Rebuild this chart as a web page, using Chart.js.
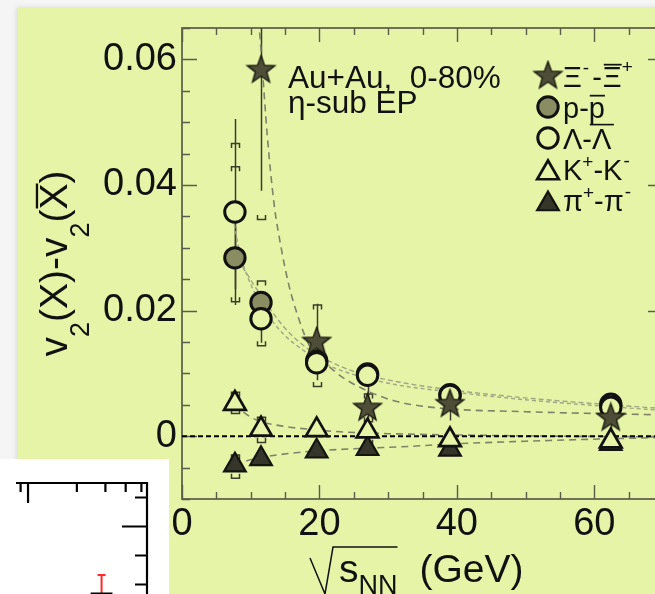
<!DOCTYPE html>
<html>
<head>
<meta charset="utf-8">
<script src="https://cdn.jsdelivr.net/npm/chart.js@4.4.1/dist/chart.umd.min.js"></script>
<style>
  html, body { margin: 0; padding: 0; }
  body { width: 655px; height: 594px; overflow: hidden; position: relative; background: #f5f5f5; }
  #panel { position: absolute; left: 18px; top: 8px; width: 700px; height: 620px; background: #e6f4a8;
           box-shadow: -2px -1px 5px rgba(0,0,0,0.10); }
  #main { position: absolute; left: 0; top: 0; }
  #insetBox { position: absolute; left: 0; top: 459px; width: 169px; height: 140px; background: #ffffff; }
  #inset { position: absolute; left: 0; top: 459px; }
</style>
</head>
<body>
<div id="panel"></div>
<canvas id="main" width="700" height="594"></canvas>
<div id="insetBox"></div>
<canvas id="inset" width="169" height="240"></canvas>
<script>
// ---------- data: v2(X) - v2(anti-X) vs collision energy ----------
const energies = [7.7, 11.5, 19.6, 27, 39, 62.4];

const xiDiff    = [null, 0.0583, 0.0150, 0.0045, 0.0051, 0.0029];
const xiStat    = [null, 0.0192, 0.0061, 0.0037, 0.0026, 0.0028];
const xiSysHigh = [null, 0.0800, 0.0209, 0.0067, 0.0055, 0.0032];
const xiSysLow  = [null, 0.0345, 0.0079, 0.0023, 0.0047, 0.0026];

const pDiff    = [0.0284, 0.0213, 0.0120, 0.0099, 0.0066, 0.0051];
const pStat    = [0.0050, 0.0015, 0.0010, 0.0008, 0.0006, 0.0005];
const pSysHigh = [0.0429, 0.0224, 0.0126, 0.0104, 0.0070, 0.0054];
const pSysLow  = [0.0270, 0.0202, 0.0114, 0.0094, 0.0062, 0.0048];

const lambdaDiff    = [0.0357, 0.0187, 0.0117, 0.0097, 0.0065, 0.0046];
const lambdaStat    = [0.0148, 0.0038, 0.0010, 0.0009, 0.0007, 0.0006];
const lambdaSysHigh = [0.0466, 0.0247, 0.0122, 0.0102, 0.0069, 0.0050];
const lambdaSysLow  = [0.0214, 0.0144, 0.0112, 0.0092, 0.0061, 0.0042];

const kaonDiff    = [0.0052, 0.0011, 0.0010, 0.0008, -0.0006, -0.0008];
const kaonStat    = [0.0004, 0.0003, 0.0002, 0.0002, 0.0002, 0.0002];
const kaonSysHigh = [0.0070, 0.0030, 0.0016, 0.0014, 0.0000, -0.0004];
const kaonSysLow  = [0.0036, -0.0010, 0.0004, -0.0013, -0.0012, -0.0012];

const pionDiff    = [-0.0046, -0.0036, -0.0024, -0.0020, -0.0021, -0.0012];
const pionStat    = [0.0004, 0.0003, 0.0002, 0.0002, 0.0002, 0.0002];
const pionSysHigh = [-0.0030, -0.0030, -0.0020, -0.0016, -0.0018, -0.0010];
const pionSysLow  = [-0.0067, -0.0042, -0.0028, -0.0024, -0.0024, -0.0014];

// fitted trend curves (sampled)
const xiFitX = [10.9, 11.6, 12.4, 13.4, 14.5, 15.5, 16.9, 18.6, 20.8, 23.2, 26.6, 31.0, 37.3, 50.0, 70.0];
const xiFitY = [0.0700, 0.0600, 0.0480, 0.0370, 0.0296, 0.0243, 0.0190, 0.0143, 0.0117, 0.0095, 0.0074, 0.0056, 0.0045, 0.0039, 0.0034];
const lambdaFitX = [7.3, 7.9, 8.5, 9.5, 10.6, 12.0, 13.0, 15.0, 17.5, 20.3, 25.0, 31.7, 39.7, 50.0, 62.4, 70.0];
const lambdaFitY = [0.0360, 0.0320, 0.0288, 0.0255, 0.0228, 0.0200, 0.0185, 0.0160, 0.0138, 0.0118, 0.0098, 0.0081, 0.0070, 0.0058, 0.0047, 0.0041];
const pFitX = [7.7, 8.5, 9.5, 10.5, 11.5, 13.0, 15.0, 17.5, 20.3, 25.0, 31.7, 39.7, 50.0, 62.4, 70.0];
const pFitY = [0.0292, 0.0275, 0.0258, 0.0240, 0.0225, 0.0200, 0.0172, 0.0146, 0.0126, 0.0103, 0.0086, 0.0073, 0.0061, 0.0050, 0.0044];
const kaonFitX = [7.7, 9.0, 11.0, 14.7, 19.6, 23.0, 30.0, 40.0, 55.0, 70.0];
const kaonFitY = [0.0052, 0.0038, 0.0025, 0.0016, 0.0010, 0.0007, 0.0004, 0.0002, 0.0000, -0.0001];
const pionFitX = [7.7, 8.9, 12.0, 16.0, 20.0, 27.0, 31.7, 40.0, 50.0, 62.4, 70.0];
const pionFitY = [-0.0046, -0.0041, -0.0033, -0.0027, -0.0023, -0.0019, -0.0017, -0.0012, -0.0008, -0.0004, -0.0002];

const zeroLineX = [0, 70];
const zeroLineY = [0, 0];

// neighbouring panel (log energy axis)
const insetEnergy = [2.84];
const insetValue  = [0.735];
const insetUpper  = [0.833];
const insetXTicks = [0.9, 1, 2, 3, 4, 5];
const insetYTicks = [0.8, 0.9, 1.0, 1.1];

// ---------- styling ----------
const FAMILY = '"Liberation Sans", Arial, Helvetica, sans-serif';
const INK = '#111111';
const BG = '#e6f4a8';
const AXIS = '#5b5b4a';
const ERR = '#3c3c2c';

function starImage(R, r, fill, stroke) {
  const s = Math.ceil(2 * R + 4);
  const c = document.createElement('canvas');
  c.width = s; c.height = s;
  const g = c.getContext('2d');
  g.translate(s / 2, s / 2);
  g.beginPath();
  for (let i = 0; i < 10; i++) {
    const a = -Math.PI / 2 + i * Math.PI / 5;
    const rad = i % 2 ? r : R;
    g.lineTo(rad * Math.cos(a), rad * Math.sin(a));
  }
  g.closePath();
  g.fillStyle = fill; g.fill();
  g.lineWidth = 1.4; g.strokeStyle = stroke; g.stroke();
  return c;
}
const starMarker = starImage(14.5, 6.0, '#4e4e38', '#1a1a10');

const species = [
  { name: 'xi', values: xiDiff, stat: xiStat, hi: xiSysHigh, lo: xiSysLow,
    pointStyle: starMarker, radius: 14, bg: '#4e4e38', border: '#1a1a10', bw: 1.4, order: 1 },
  { name: 'lambda', values: lambdaDiff, stat: lambdaStat, hi: lambdaSysHigh, lo: lambdaSysLow,
    pointStyle: 'circle', radius: 10.2, bg: BG, border: INK, bw: 3, order: 2 },
  { name: 'proton', values: pDiff, stat: pStat, hi: pSysHigh, lo: pSysLow,
    pointStyle: 'circle', radius: 10.2, bg: '#8a8c62', border: INK, bw: 3, order: 3 },
  { name: 'kaon', values: kaonDiff, stat: kaonStat, hi: kaonSysHigh, lo: kaonSysLow,
    pointStyle: 'triangle', radius: 12.5, bg: BG, border: INK, bw: 2.7, order: 4 },
  { name: 'pion', values: pionDiff, stat: pionStat, hi: pionSysHigh, lo: pionSysLow,
    pointStyle: 'triangle', radius: 12.5, bg: '#35352a', border: '#141410', bw: 2.2, order: 5 }
];

const toPoints = (xs, ys) => xs.map((x, i) => ({ x: x, y: ys[i] }));

const markerSets = species.map(s => ({
  type: 'scatter',
  label: s.name,
  data: energies.map((e, i) => ({ x: e, y: s.values[i] })).filter(p => p.y !== null),
  pointStyle: s.pointStyle,
  pointRadius: s.radius,
  pointBackgroundColor: s.bg,
  pointBorderColor: s.border,
  pointBorderWidth: s.bw,
  showLine: false,
  order: s.order
}));

function curve(xs, ys, color, width, dash) {
  return {
    type: 'line', data: toPoints(xs, ys), borderColor: color, borderWidth: width,
    borderDash: dash, pointRadius: 0, cubicInterpolationMode: 'monotone', fill: false, order: 20
  };
}

const curveSets = [
  curve(lambdaFitX, lambdaFitY, '#a0a484', 1.4, [4, 3]),
  curve(pFitX, pFitY, '#a0a484', 1.4, [5, 3]),
  curve(xiFitX, xiFitY, '#7f8268', 1.6, [7, 5]),
  curve(kaonFitX, kaonFitY, '#7f8268', 1.6, [7, 5]),
  curve(pionFitX, pionFitY, '#7f8268', 1.6, [7, 5]),
  { type: 'line', data: toPoints(zeroLineX, zeroLineY), borderColor: '#000', borderWidth: 2,
    borderDash: [5, 3], pointRadius: 0, fill: false, order: 15 }
];

// ---------- plugins ----------
const frameAndTicks = {
  id: 'frameAndTicks',
  beforeDatasetsDraw(chart) {
    const { ctx, chartArea: a, scales: { x, y } } = chart;
    ctx.save();
    ctx.strokeStyle = AXIS;
    ctx.lineWidth = 1.7;
    ctx.strokeRect(a.left, a.top, a.right - a.left, a.bottom - a.top);
    ctx.beginPath();
    x.ticks.forEach(t => {
      const px = Math.round(x.getPixelForValue(t.value)) + 0.5;
      const len = t.value % 20 === 0 ? 14 : 7;
      ctx.moveTo(px, a.bottom); ctx.lineTo(px, a.bottom - len);
      ctx.moveTo(px, a.top); ctx.lineTo(px, a.top + len);
    });
    y.ticks.forEach(t => {
      const py = Math.round(y.getPixelForValue(t.value)) + 0.5;
      const major = Math.round(t.value / 0.005) % 4 === 0;
      const len = major ? 15 : 8;
      ctx.moveTo(a.left, py); ctx.lineTo(a.left + len, py);
      ctx.moveTo(a.right, py); ctx.lineTo(a.right - len, py);
    });
    ctx.lineWidth = 1.4;
    ctx.stroke();
    ctx.restore();
  }
};

const errorBars = {
  id: 'errorBars',
  beforeDatasetsDraw(chart) {
    const { ctx, chartArea: a, scales: { x, y } } = chart;
    ctx.save();
    ctx.beginPath();
    ctx.rect(a.left, a.top, a.right - a.left, a.bottom - a.top);
    ctx.clip();
    ctx.strokeStyle = ERR;
    ctx.lineWidth = 1.5;
    species.forEach(s => {
      energies.forEach((e, i) => {
        const v = s.values[i];
        if (v === null) return;
        const px = Math.round(x.getPixelForValue(e)) + 0.5;
        const yTop = y.getPixelForValue(v + s.stat[i]);
        const yBot = y.getPixelForValue(v - s.stat[i]);
        ctx.beginPath();
        ctx.moveTo(px, yTop); ctx.lineTo(px, yBot);
        const yh = y.getPixelForValue(s.hi[i]);
        const yl = y.getPixelForValue(s.lo[i]);
        ctx.moveTo(px - 4, yh + 4.5); ctx.lineTo(px - 4, yh); ctx.lineTo(px + 4, yh); ctx.lineTo(px + 4, yh + 4.5);
        ctx.moveTo(px - 4, yl - 4.5); ctx.lineTo(px - 4, yl); ctx.lineTo(px + 4, yl); ctx.lineTo(px + 4, yl - 4.5);
        ctx.stroke();
      });
    });
    ctx.restore();
  }
};

// draw a run of text pieces (sub/superscripts, overlines) left to right
function drawRuns(ctx, x, y, runs) {
  runs.forEach(r => {
    ctx.font = r.size + 'px ' + FAMILY;
    x += r.gap || 0;
    const w = ctx.measureText(r.t).width;
    const by = y + (r.dy || 0);
    ctx.fillText(r.t, x, by);
    if (r.over) {
      ctx.fillRect(x + 1, by - r.size * 0.80, w - 1, Math.max(1.3, r.size * 0.06));
    }
    if (r.under) {
      ctx.fillRect(x + 1, by + r.size * 0.20, w + r.under, 1.6);
    }
    x += w;
  });
  return x;
}
function runsWidth(ctx, runs) {
  let w = 0;
  runs.forEach(r => { ctx.font = r.size + 'px ' + FAMILY; w += (r.gap || 0) + ctx.measureText(r.t).width; });
  return w;
}

const LEG = 29, SUP = 19;
const legendRows = [
  { marker: 'xi', runs: [{ t: 'Ξ', size: LEG }, { t: '-', size: SUP, dy: -13, gap: 1 }, { t: '-', size: LEG, gap: 3 },
                         { t: 'Ξ', size: LEG, over: true, gap: 1 }, { t: '+', size: SUP, dy: -14 }] },
  { marker: 'proton', runs: [{ t: 'p', size: LEG }, { t: '-', size: LEG }, { t: 'p', size: LEG, over: true, under: 8 }] },
  { marker: 'lambda', runs: [{ t: 'Λ', size: LEG }, { t: '-', size: LEG }, { t: 'Λ', size: LEG }] },
  { marker: 'kaon', runs: [{ t: 'K', size: LEG }, { t: '+', size: SUP, dy: -12 }, { t: '-', size: LEG },
                           { t: 'K', size: LEG }, { t: '-', size: SUP, dy: -13, gap: 1 }] },
  { marker: 'pion', runs: [{ t: 'π', size: LEG }, { t: '+', size: SUP, dy: -12 }, { t: '-', size: LEG },
                           { t: 'π', size: LEG }, { t: '-', size: SUP, dy: -13, gap: 1 }] }
];

function drawMarker(ctx, s, cx, cy) {
  if (s.pointStyle === starMarker) {
    ctx.drawImage(starMarker, cx - starMarker.width / 2, cy - starMarker.height / 2);
    return;
  }
  ctx.beginPath();
  if (s.pointStyle === 'circle') {
    ctx.arc(cx, cy, s.radius, 0, Math.PI * 2);
  } else {
    for (let k = 0; k < 3; k++) {
      const ang = k * 2 * Math.PI / 3;
      ctx.lineTo(cx + Math.sin(ang) * s.radius, cy - Math.cos(ang) * s.radius);
    }
    ctx.closePath();
  }
  ctx.fillStyle = s.bg; ctx.fill();
  ctx.lineWidth = s.bw; ctx.strokeStyle = s.border; ctx.stroke();
}

const annotations = {
  id: 'annotations',
  afterDraw(chart) {
    const { ctx, chartArea: a } = chart;
    ctx.save();
    ctx.fillStyle = INK;
    ctx.textBaseline = 'alphabetic';
    ctx.textAlign = 'left';

    // system / centrality / event-plane method
    ctx.font = '31.5px ' + FAMILY;
    ctx.fillText('Au+Au,  0-80%', a.left + 106, a.top + 60);
    ctx.fillText('η-sub EP', a.left + 106, a.top + 85);

    // legend
    legendRows.forEach((row, i) => {
      const base = a.top + 59 + i * 31;
      const s = species.find(q => q.name === row.marker);
      const my = s.pointStyle === 'triangle' ? base - 7 : base - 11;
      drawMarker(ctx, s, a.left + 366, my);
      ctx.fillStyle = INK;
      drawRuns(ctx, a.left + 381, base, row.runs);
    });

    // y-axis title
    const yRuns = [{ t: 'v', size: 39 }, { t: '2', size: 27, dy: 22 }, { t: '(X)-v', size: 39 },
                   { t: '2', size: 27, dy: 22 }, { t: '(', size: 39 }, { t: 'X', size: 39, over: true }, { t: ')', size: 39 }];
    ctx.save();
    ctx.translate(a.left - 115, (a.top + a.bottom) / 2);
    ctx.rotate(-Math.PI / 2);
    drawRuns(ctx, -runsWidth(ctx, yRuns) / 2, 0, yRuns);
    ctx.restore();

    // x-axis title with radical sign
    const x0 = a.left + 128, b = a.bottom + 83;
    let xe = drawRuns(ctx, x0 + 29, b, [{ t: 's', size: 39 }, { t: 'NN', size: 27, dy: 12 }]);
    ctx.strokeStyle = INK;
    ctx.lineWidth = 1.5;
    ctx.beginPath();
    ctx.moveTo(x0, b - 24);
    ctx.lineTo(x0 + 15, b + 12);
    ctx.lineTo(x0 + 23, b - 35);
    ctx.lineTo(xe, b - 35);
    ctx.stroke();
    drawRuns(ctx, xe + 22, b, [{ t: '(GeV)', size: 39 }]);
    ctx.restore();
  }
};

new Chart(document.getElementById('main'), {
  data: { datasets: markerSets.concat(curveSets) },
  options: {
    responsive: false,
    animation: false,
    events: [],
    layout: { padding: { left: 0, top: 28, right: 37, bottom: 0 } },
    plugins: { legend: { display: false }, tooltip: { enabled: false } },
    scales: {
      x: {
        type: 'linear', position: 'bottom', min: 0, max: 70,
        afterFit(s) { s.height = 95; },
        grid: { display: false, drawTicks: false }, border: { display: false },
        ticks: {
          stepSize: 5, autoSkip: false, maxRotation: 0, padding: 3, color: INK,
          font: { size: 38, family: FAMILY },
          callback: v => (v % 20 === 0 ? String(v) : '')
        }
      },
      y: {
        type: 'linear', position: 'left', min: -0.01, max: 0.065,
        afterFit(s) { s.width = 182; },
        grid: { display: false, drawTicks: false }, border: { display: false },
        ticks: {
          stepSize: 0.005, autoSkip: false, padding: 5, color: INK,
          font: { size: 38, family: FAMILY },
          callback: v => {
            const k = Math.round(v / 0.005);
            if (k % 4 !== 0 || k < 0) return '';
            return k === 0 ? '0' : (k * 0.005).toFixed(2);
          }
        }
      }
    }
  },
  plugins: [frameAndTicks, errorBars, annotations]
});

// ---------- neighbouring panel ----------
const insetAxes = {
  id: 'insetAxes',
  beforeDatasetsDraw(chart) {
    const { ctx, chartArea: a, scales: { x, y } } = chart;
    ctx.save();
    ctx.strokeStyle = '#000';
    ctx.lineWidth = 2.2;
    ctx.beginPath();
    ctx.moveTo(a.left, a.top); ctx.lineTo(a.right, a.top); ctx.lineTo(a.right, a.bottom);
    insetXTicks.forEach(v => {
      const px = x.getPixelForValue(v);
      ctx.moveTo(px, a.top); ctx.lineTo(px, a.top + (v === 1 ? 20 : 9));
    });
    insetYTicks.forEach(v => {
      const py = y.getPixelForValue(v);
      ctx.moveTo(a.right, py); ctx.lineTo(a.right - (Math.abs(v - 1) < 1e-9 ? 25 : 12), py);
    });
    ctx.stroke();
    // red statistical error bar
    ctx.strokeStyle = '#ff2a2a';
    ctx.lineWidth = 2;
    ctx.beginPath();
    insetEnergy.forEach((e, i) => {
      const px = x.getPixelForValue(e);
      const yu = y.getPixelForValue(insetUpper[i]);
      ctx.moveTo(px, y.getPixelForValue(insetValue[i])); ctx.lineTo(px, yu);
      ctx.moveTo(px - 4, yu); ctx.lineTo(px + 4, yu);
    });
    ctx.stroke();
    ctx.restore();
  }
};

new Chart(document.getElementById('inset'), {
  type: 'scatter',
  data: {
    datasets: [{
      data: insetEnergy.map((e, i) => ({ x: e, y: insetValue[i] })),
      pointStyle: 'rect', pointRadius: 14, pointBorderColor: '#000', pointBorderWidth: 2,
      pointBackgroundColor: 'rgba(0,0,0,0)'
    }]
  },
  options: {
    responsive: false,
    animation: false,
    events: [],
    layout: { padding: { left: 0, top: 24, right: 22, bottom: 27.5 } },
    plugins: { legend: { display: false }, tooltip: { enabled: false } },
    scales: {
      x: { type: 'logarithmic', min: 0.843, max: 5.414, display: false },
      y: { type: 'linear', min: 0.5, max: 1.15, display: false }
    }
  },
  plugins: [insetAxes]
});
</script>
</body>
</html>
